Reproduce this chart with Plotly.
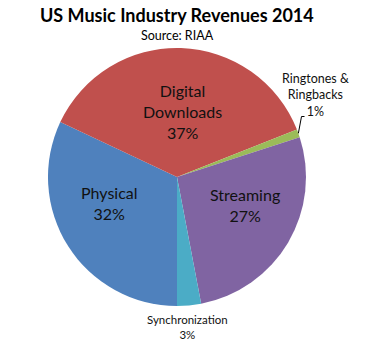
import math
import plotly.graph_objects as go

# Share of US recorded-music revenues, 2014 (percent), clockwise from 6 o'clock
categories = ["Physical", "Digital Downloads", "Ringtones & Ringbacks", "Streaming", "Synchronization"]
shares = [32, 37, 1, 27, 3]
colors = ["#4F81BD", "#C0504D", "#9BBB59", "#8064A2", "#4BACC6"]

W, H = 389, 345
CX, CY, R = 177, 177, 129   # pie centre and radius in pixels
FONT = "Lato, 'Open Sans', sans-serif"


def px(x):
    return x / W


def py(y):
    return 1 - y / H


fig = go.Figure(
    go.Pie(
        labels=categories,
        values=shares,
        marker=dict(colors=colors, line=dict(width=0)),
        sort=False,
        direction="clockwise",
        rotation=180,
        textinfo="none",
        hoverinfo="label+percent",
        showlegend=False,
        domain=dict(x=[px(CX - R), px(CX + R)], y=[py(CY + R), py(CY - R)]),
    )
)

# label text built from the data
def label_text(name, val, wrap=None):
    name = wrap if wrap else name
    return f"{name}<br>{val}%"

inside = {
    "Digital Downloads": ("Digital<br>Downloads", 182, 112, 16),
    "Physical": (None, 109, 203, 16),
    "Streaming": (None, 245, 205, 16),
}
outside = {
    "Ringtones & Ringbacks": ("Ringtones &<br>Ringbacks", 315, 95, 12.5),
    "Synchronization": (None, 187, 327, 11.5),
}

annotations = []
for cat, val in zip(categories, shares):
    spec = inside.get(cat) or outside.get(cat)
    wrap, x, y, size = spec
    annotations.append(
        dict(
            text=label_text(cat, val, wrap),
            x=px(x), y=py(y), xref="paper", yref="paper",
            xanchor="center", yanchor="middle", showarrow=False,
            font=dict(family=FONT, size=size, color="#111111"),
        )
    )

annotations += [
    dict(text="<b>US Music Industry Revenues 2014</b>", x=px(177), y=py(15),
         xref="paper", yref="paper", xanchor="center", yanchor="middle",
         showarrow=False, font=dict(family=FONT, size=18, color="#000000")),
    dict(text="Source: RIAA", x=px(177), y=py(35), xref="paper", yref="paper",
         xanchor="center", yanchor="middle", showarrow=False,
         font=dict(family=FONT, size=12.5, color="#000000")),
]

# leader line from the ringtones slice to its label
i = categories.index("Ringtones & Ringbacks")
total = sum(shares)
mid_deg = 180 + (sum(shares[:i]) + shares[i] / 2) / total * 360
ex = CX + R * math.sin(math.radians(mid_deg))
ey = CY - R * math.cos(math.radians(mid_deg))
lx, ly = 301.5, 116.5
shapes = [
    dict(type="path", xref="paper", yref="paper",
         path=f"M {px(ex)} {py(ey)} L {px(lx)} {py(ly)} L {px(lx + 3)} {py(ly)}",
         line=dict(color="#000000", width=1)),
]

fig.update_layout(
    width=W, height=H,
    margin=dict(l=0, r=0, t=0, b=0),
    paper_bgcolor="white", plot_bgcolor="white",
    annotations=annotations, shapes=shapes,
)

fig.write_html("out.html")
